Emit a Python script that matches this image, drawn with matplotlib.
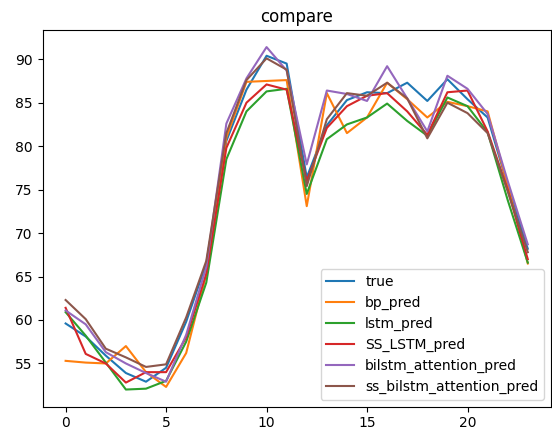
from matplotlib import pyplot as plt

# values, one per hour (0..23)
true = [59.6, 58.1, 55.9, 53.9, 52.9, 54.5, 59.8, 66.5, 80.6, 86.5, 90.4, 89.5,
        76.4, 82.4, 85.3, 86.2, 86.1, 87.3, 85.2, 87.7, 85.4, 83.3, 75.5, 68.2]
bp_pred = [55.3, 55.1, 55.0, 57.0, 54.0, 52.3, 56.2, 65.3, 81.0, 87.4, 87.5, 87.6,
           73.1, 86.1, 81.5, 83.3, 87.3, 85.4, 83.3, 85.1, 84.6, 84.0, 75.5, 66.5]
lstm_pred = [60.9, 58.2, 55.1, 52.0, 52.1, 53.0, 57.5, 64.3, 78.5, 84.0, 86.3, 86.6,
             74.5, 80.8, 82.5, 83.3, 84.9, 82.9, 81.2, 85.6, 84.6, 81.6, 73.8, 66.6]
ss_lstm_pred = [61.4, 56.1, 55.0, 52.8, 54.0, 54.0, 58.0, 65.3, 79.8, 85.0, 87.1, 86.5,
                76.0, 82.1, 84.6, 85.8, 86.1, 84.0, 81.3, 86.2, 86.4, 81.7, 75.0, 67.0]
bilstm_attention_pred = [61.1, 59.5, 56.3, 55.0, 53.9, 52.9, 58.3, 66.1, 82.6, 87.8, 91.4, 88.7,
                         77.9, 86.4, 86.0, 85.2, 89.2, 85.5, 81.7, 88.1, 86.6, 83.7, 76.0, 68.7]
ss_bilstm_attention_pred = [62.3, 60.1, 56.7, 55.7, 54.6, 54.9, 60.3, 66.8, 81.5, 87.6, 90.1, 88.8,
                            75.4, 83.1, 86.1, 85.8, 87.3, 85.5, 80.9, 85.0, 83.8, 81.5, 74.8, 67.8]

figure, ax = plt.subplots(figsize=(5.52, 4.34), dpi=100)
figure.subplots_adjust(left=0.077, right=0.998, bottom=0.063, top=0.931)
ax.plot(true, label='true')
ax.plot(bp_pred, label='bp_pred')
ax.plot(lstm_pred, label='lstm_pred')
ax.plot(ss_lstm_pred, label='SS_LSTM_pred')
ax.plot(bilstm_attention_pred, label='bilstm_attention_pred')
ax.plot(ss_bilstm_attention_pred, label='ss_bilstm_attention_pred')
ax.set_title('compare')
ax.legend(loc='lower right')
figure.savefig('out.png')
